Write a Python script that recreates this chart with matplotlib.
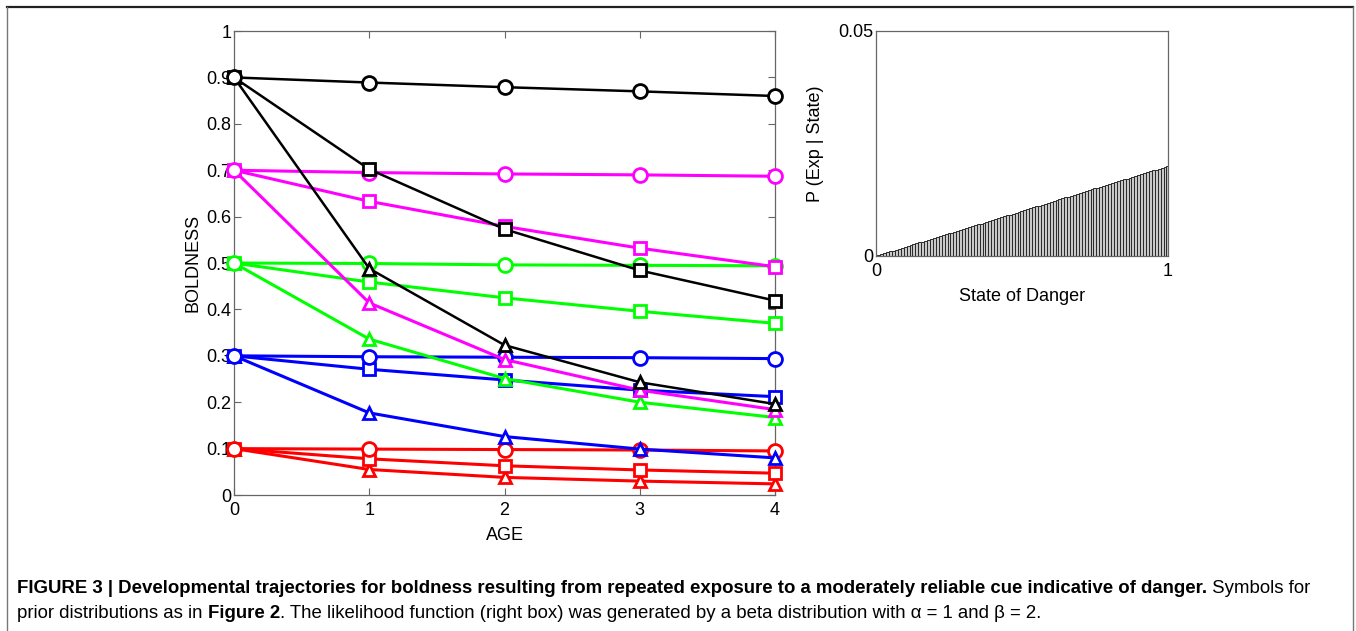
import matplotlib
matplotlib.use("Agg")
import matplotlib.pyplot as plt
from matplotlib.lines import Line2D

plt.rcParams['font.family'] = ['Liberation Sans', 'DejaVu Sans']

# boldness trajectories over age, one list per prior (colour) and cue model (marker)
age = [0, 1, 2, 3, 4]

black_circle = [0.90, 0.889, 0.879, 0.870, 0.860]
black_square = [0.90, 0.702, 0.573, 0.484, 0.419]
black_triangle = [0.90, 0.488, 0.323, 0.243, 0.196]

magenta_circle = [0.70, 0.695, 0.692, 0.690, 0.687]
magenta_square = [0.70, 0.633, 0.579, 0.532, 0.492]
magenta_triangle = [0.70, 0.414, 0.292, 0.226, 0.184]

green_circle = [0.50, 0.499, 0.496, 0.495, 0.494]
green_square = [0.50, 0.459, 0.425, 0.396, 0.370]
green_triangle = [0.50, 0.336, 0.251, 0.200, 0.167]

blue_circle = [0.30, 0.298, 0.297, 0.296, 0.294]
blue_square = [0.30, 0.271, 0.248, 0.226, 0.212]
blue_triangle = [0.30, 0.177, 0.126, 0.099, 0.080]

red_circle = [0.10, 0.099, 0.098, 0.097, 0.095]
red_square = [0.10, 0.078, 0.063, 0.054, 0.047]
red_triangle = [0.10, 0.055, 0.038, 0.030, 0.024]

# likelihood of exposure for each state of danger
state = [i / 100 for i in range(101)]
p_exp = [
    0.0000, 0.0002, 0.0004, 0.0006, 0.0008, 0.0010, 0.0012, 0.0014, 0.0016, 0.0018,
    0.0020, 0.0022, 0.0024, 0.0026, 0.0028, 0.0030, 0.0032, 0.0034, 0.0036, 0.0038,
    0.0040, 0.0042, 0.0044, 0.0046, 0.0048, 0.0050, 0.0052, 0.0054, 0.0056, 0.0058,
    0.0060, 0.0062, 0.0064, 0.0066, 0.0068, 0.0070, 0.0072, 0.0074, 0.0076, 0.0078,
    0.0080, 0.0082, 0.0084, 0.0086, 0.0088, 0.0090, 0.0092, 0.0094, 0.0096, 0.0098,
    0.0100, 0.0102, 0.0104, 0.0106, 0.0108, 0.0110, 0.0112, 0.0114, 0.0116, 0.0118,
    0.0120, 0.0122, 0.0124, 0.0126, 0.0128, 0.0130, 0.0132, 0.0134, 0.0136, 0.0138,
    0.0140, 0.0142, 0.0144, 0.0146, 0.0148, 0.0150, 0.0152, 0.0154, 0.0156, 0.0158,
    0.0160, 0.0162, 0.0164, 0.0166, 0.0168, 0.0170, 0.0172, 0.0174, 0.0176, 0.0178,
    0.0180, 0.0182, 0.0184, 0.0186, 0.0188, 0.0190, 0.0192, 0.0194, 0.0196, 0.0198,
    0.0200,
]

# drawn in this order: later ones sit on top
series = [
    (red_triangle, 'r', '^'), (red_square, 'r', 's'), (red_circle, 'r', 'o'),
    (blue_triangle, 'b', '^'), (blue_square, 'b', 's'), (blue_circle, 'b', 'o'),
    (green_triangle, 'lime', '^'), (green_square, 'lime', 's'), (green_circle, 'lime', 'o'),
    (magenta_triangle, 'magenta', '^'), (magenta_square, 'magenta', 's'), (magenta_circle, 'magenta', 'o'),
    (black_triangle, 'k', '^'), (black_square, 'k', 's'), (black_circle, 'k', 'o'),
]
msize = {'o': 10, 's': 8, '^': 9}

fig = plt.figure(figsize=(13.56, 6.31), dpi=100)

ax = fig.add_axes([0.1726, 0.2155, 0.399, 0.7353])
for vals, col, mk in series:
    lw = 1.8 if col == 'k' else 2.2
    ax.plot(age, vals, color=col, lw=lw, marker=mk, ms=msize[mk],
            mfc='white', mec=col, mew=2.0, clip_on=False, zorder=3)
ax.set_xlim(0, 4)
ax.set_ylim(0, 1)
ax.set_xticks([0, 1, 2, 3, 4])
ax.set_yticks([0, 0.1, 0.2, 0.3, 0.4, 0.5, 0.6, 0.7, 0.8, 0.9, 1])
ax.set_yticklabels(['0', '0.1', '0.2', '0.3', '0.4', '0.5', '0.6', '0.7', '0.8', '0.9', '1'])
ax.set_xlabel('AGE', fontsize=13, labelpad=6)
ax.set_ylabel('BOLDNESS', fontsize=13, labelpad=3)

# matlab-style bars: light face, dark edges
ax2 = fig.add_axes([0.646, 0.5943, 0.2153, 0.3566])
ax2.bar(state, p_exp, width=0.01, color='#c8c8c8', edgecolor='#2a2a2a', linewidth=0.7)
ax2.set_xlim(0, 1)
ax2.set_ylim(0, 0.05)
ax2.set_xticks([0, 1])
ax2.set_yticks([0, 0.05])
ax2.set_yticklabels(['0', '0.05'])
ax2.set_xlabel('State of Danger', fontsize=13, labelpad=6)
ax2.set_ylabel('P (Exp | State)', fontsize=13, labelpad=10)

for a in (ax, ax2):
    for sp in a.spines.values():
        sp.set_color('#666666')
        sp.set_linewidth(0.9)
    a.tick_params(direction='in', length=5, width=0.8, color='#666666',
                  labelsize=13, top=True, right=True, pad=2)
    a.tick_params(axis='x', pad=5)
ax2.tick_params(length=0)

# frame around the figure panel
fig.add_artist(Line2D([0.0052, 0.9975], [0.989, 0.989], color='#222222', lw=1.6))
fig.add_artist(Line2D([0.0052, 0.0052], [0.0, 0.989], color='#777777', lw=1.0))
fig.add_artist(Line2D([0.9975, 0.9975], [0.0, 0.989], color='#777777', lw=1.0))

# caption, bold lead-in followed by regular text
fig.canvas.draw()
renderer = fig.canvas.get_renderer()


def put_runs(x, y, runs):
    for txt, weight in runs:
        t = fig.text(x, y, txt, fontsize=13.45, fontweight=weight,
                     va='baseline', ha='left')
        bb = t.get_window_extent(renderer)
        x = bb.x1 / fig.bbox.width


put_runs(0.0125, 0.060, [
    ('FIGURE 3 | Developmental trajectories for boldness resulting from repeated exposure '
     'to a moderately reliable cue indicative of danger.', 'bold'),
    (' Symbols for', 'normal'),
])
put_runs(0.0125, 0.021, [
    ('prior distributions as in ', 'normal'),
    ('Figure 2', 'bold'),
    ('. The likelihood function (right box) was generated by a beta distribution '
     'with \u03b1 = 1 and \u03b2 = 2.', 'normal'),
])

fig.savefig('out.png', dpi=100)
